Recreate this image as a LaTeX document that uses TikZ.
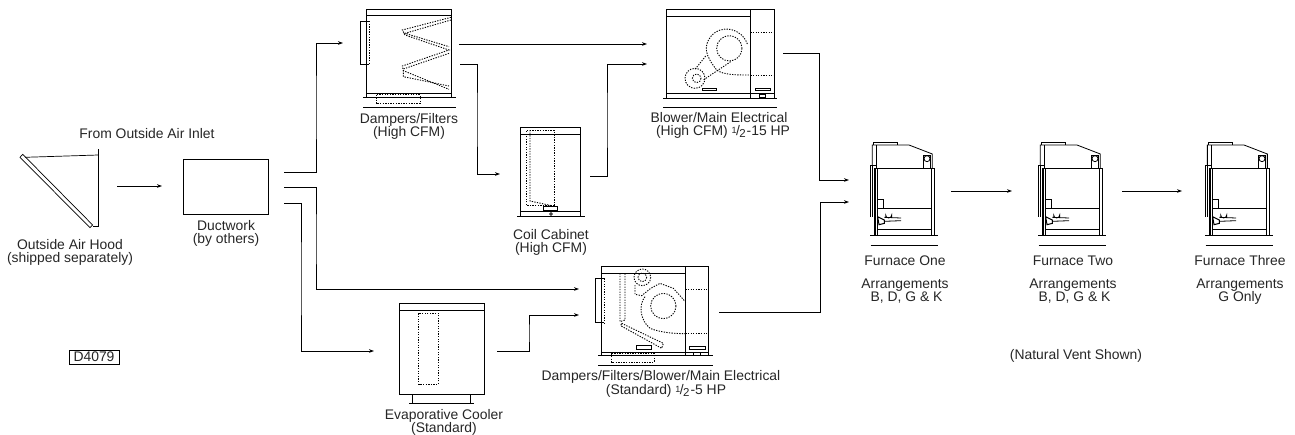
\documentclass[tikz,border=0pt]{standalone}
\usepackage{fontspec}
\setmainfont{Liberation Sans}
\usetikzlibrary{arrows.meta}
\newcommand{\frc}{\raisebox{2.5pt}{\fontsize{9}{9}\selectfont 1}\kern-.6pt\raisebox{.5pt}{/}\kern-.6pt\raisebox{-2pt}{\fontsize{11.5}{11.5}\selectfont 2}\kern1pt}
\tikzset{
 lbl/.style={align=center,font=\fontsize{13.9}{13.2}\selectfont,inner sep=0pt,text=black!85},
 flow/.style={line width=.8pt,-{Stealth[length=5pt,width=3.6pt]}},
 unit/.style={line width=.8pt},
 heavy/.style={line width=1.1pt},
 hid/.style={line width=.9pt,dash pattern=on 1.3pt off 1.3pt},
 local/.style={x=.33333pt,y=-.33333pt}
}
\newcommand{\furnace}[1]{%
\begin{scope}[shift={(#1,130)},local]
 \draw[unit] (55,45)--(55,37)--(127,37)--(127,45);
 \draw[unit] (52,105)--(52,45)--(162,45)--(232,72)--(232,115);
 \draw[unit] (65,45)--(65,115);
 \draw[unit] (65,105)--(47,105)--(47,262);
 \draw[line width=.5pt] (52,105)--(52,262);
 \draw[heavy] (60,115)--(238,115);
 \draw[line width=1.6pt] (60,115)--(60,317);
 \draw[line width=.5pt] (66,115)--(66,317);
 \draw[unit] (230,115)--(230,317);
 \draw[line width=.6pt] (238,115)--(238,317);
 \draw[unit] (66,235)--(230,235) (66,297)--(230,297);
 \draw[unit] (45,317)--(250,317);
 \draw[unit] (47,345)--(250,345);
 \draw[unit] (66,208)--(85,208)--(85,235);
 \draw[unit] (205,115)--(205,75)--(227,75)--(227,115);
 \draw[unit] (216,86) circle (9);
 \draw[unit] (92,262)--(92,255) arc (180:0:9)--(110,262);
 \draw[unit] (88,262)--(138,264) (88,274)--(138,272);
 \draw[line width=1pt] (68,260)--(88,270)--(88,280)--(72,284)--cycle;
\end{scope}}
\begin{document}
\begin{tikzpicture}[x=1pt,y=-1pt]
\useasboundingbox (0,0) rectangle (1295,434);
% hood
\begin{scope}[line width=.7pt]
 \draw (20,157.3)--(22.7,154.3)--(92.7,225)--(90,227.7)--cycle;
 \draw (25,157.3)--(98.3,155);
 \draw (98.3,149.3)--(98.3,226.7)--(92.7,226.7);
\end{scope}
\node[lbl] (inlet) at (147,134) {From Outside Air Inlet};
\node[lbl] (hood) at (70,252.5) {Outside Air Hood\\(shipped separately)};
% ductwork
\node[draw,unit,minimum width=85pt,minimum height=55.4pt,inner sep=0pt] (duct) at (225.5,187) {};
\node[lbl] (ductl) at (226,233.8) {Ductwork\\(by others)};
% dampers/filters
\begin{scope}[shift={(340,0)},local]
 \draw[unit] (80,292)--(80,27)--(333,27)--(333,292);
 \draw[unit] (80,47)--(333,47) (80,279)--(333,279);
 \draw[unit] (70,292)--(347,292) (70,321)--(347,321);
 \draw[unit] (88,63)--(62,63)--(62,193)--(88,193);
 \draw[hid] (88,63)--(88,193);
 \draw[hid] (333,52)--(187,90)--(195,105)--(327,150)--(187,198)--(190,212)--(327,268);
 \draw[hid] (333,60)--(195,100)--(327,140) (327,160)--(190,207)--(190,230)--(327,258);
 \draw[hid] (108,284) rectangle (240,311);
\end{scope}
\node[lbl] (dfl) at (409,126.5) {Dampers/Filters\\(High CFM)};
% coil cabinet
\begin{scope}[shift={(500,115)},local]
 \draw[unit] (62,305)--(62,37)--(242,37)--(242,305);
 \draw[unit] (62,58)--(242,58) (62,289)--(242,289) (52,305)--(256,305);
 \draw[hid] (80,270)--(80,45)--(162,45)--(162,270)--cycle;
 \draw[hid] (90,45)--(90,258)--(155,272);
 \draw[unit] (130,275) rectangle (173,285);
 \draw[unit] (153,297) circle (4);
\end{scope}
\node[lbl] (coill) at (551,242.5) {Coil Cabinet\\(High CFM)};
% blower high
\begin{scope}[shift={(640,0)},local]
 \draw[unit] (80,294)--(80,28)--(402,28)--(402,294);
 \draw[unit] (331,28)--(331,294);
 \draw[unit] (80,48)--(331,48) (80,281)--(402,281);
 \draw[unit] (70,294)--(412,294) (70,322)--(412,322);
 \draw[unit] (186,265) rectangle (230,272);
 \draw[unit] (346,265) rectangle (391,272);
 \draw[unit] (358,283) rectangle (376,292);
 \draw[hid] (331,97)--(402,97) (331,225)--(402,225);
 \draw[hid] (268,145) circle (38);
 \draw[hid] (322,132) .. controls (305,85) and (245,70) .. (212,110) .. controls (190,140) and (195,165) .. (230,210) .. controls (250,225) and (290,225) .. (331,225);
 \draw[hid] (165,235) circle (30);
 \draw[hid] (170,235) circle (13);
 \draw[hid] (197,168)--(165,208) (272,185)--(190,240);
\end{scope}
\node[lbl] (blowl) at (719,125.5) {Blower/Main Electrical\\\hspace*{8pt}(High CFM) \frc-15 HP};
% blower standard
\begin{scope}[shift={(580,255)},local]
 \draw[unit] (65,303)--(65,35)--(385,35)--(385,303);
 \draw[unit] (316,35)--(316,303);
 \draw[unit] (65,55)--(316,55) (65,291)--(385,291);
 \draw[unit] (55,302)--(400,302) (55,330)--(400,330);
 \draw[unit] (73,70)--(47,70)--(47,203)--(73,203);
 \draw[hid] (73,70)--(73,203);
 \draw[unit] (168,272) rectangle (215,283);
 \draw[unit] (328,273) rectangle (375,283);
 \draw[unit] (340,292) rectangle (360,300);
 \draw[hid] (95,295) rectangle (222,322);
 \draw[hid] (187,67) circle (25);
 \draw[hid] (187,67) circle (13);
 \draw[hid] (250,153) circle (38);
 \draw[hid] (316,102)--(385,102) (316,236)--(385,236);
 \draw[hid] (120,55)--(120,200)--(135,195)--(135,55);
 \draw[hid] (125,205)--(250,265)--(245,280)--(122,212)--cycle;
 \draw[hid] (165,90)--(165,118)--(185,122)--(212,100)--(240,85)--(280,100)--(316,140);
 \draw[hid] (195,125) .. controls (175,150) and (180,195) .. (210,220) .. controls (240,232) and (280,236) .. (316,236);
\end{scope}
\node[lbl] (stdl) at (661,384) {Dampers/Filters/Blower/Main Electrical\\\hspace*{10pt}(Standard) \frc-5 HP};
% evaporative cooler
\begin{scope}[shift={(385,295)},local]
 \draw[unit] (42,25) rectangle (297,297);
 \draw[unit] (42,47)--(297,47);
 \draw[unit] (82,297)--(82,325) (257,297)--(257,325) (72,325)--(267,325);
 \draw[hid] (101,55) rectangle (160,268);
\end{scope}
\node[lbl] (evapl) at (444,422.4) {Evaporative Cooler\\(Standard)};
% furnaces
\furnace{855}
\furnace{1023}
\furnace{1190}
\node[lbl] (f1) at (905,260.7) {Furnace One};
\node[lbl] (a1) at (905,291.5) {Arrangements\\\hspace*{3pt}B, D, G \& K};
\node[lbl] (f2) at (1073,260.7) {Furnace Two};
\node[lbl] (a2) at (1073,291.5) {Arrangements\\\hspace*{3pt}B, D, G \& K};
\node[lbl] (f3) at (1240,260.7) {Furnace Three};
\node[lbl] (a3) at (1240,291.5) {Arrangements\\G Only};
\node[lbl] (nv) at (1076,355.7) {(Natural Vent Shown)};
\node[draw,line width=.7pt,lbl,minimum width=50pt,minimum height=14pt] (dno) at (94,357) {D4079};
% connector ends
\coordinate (hoodout) at (117,186);
\coordinate (ductin) at (162,186);
\coordinate (d1) at (284,172);
\coordinate (d2) at (284,187);
\coordinate (d3) at (284,203);
\coordinate (dfin) at (343,43);
\coordinate (stdin1) at (579,289);
\coordinate (evapin) at (374,351);
\coordinate (dfout1) at (459,44);
\coordinate (dfout2) at (460,64);
\coordinate (blowin1) at (647,44);
\coordinate (blowin2) at (647,64);
\coordinate (coilin) at (500,174);
\coordinate (coilout) at (590,176);
\coordinate (blowout) at (783,53);
\coordinate (f1in1) at (849,180);
\coordinate (evapout) at (497,351);
\coordinate (stdin2) at (579,315);
\coordinate (stdout) at (719,312);
\coordinate (f1in2) at (849,202);
\coordinate (f1out) at (951,191);
\coordinate (f2in) at (1012,191);
\coordinate (f2out) at (1122,191);
\coordinate (f3in) at (1182,191);
% connectors
\draw[flow] (hoodout)--(ductin);
\draw[flow] (d1)-|(316,107)|-(dfin);
\draw[flow] (d2)-|(316,240)|-(stdin1);
\draw[flow] (d3)-|(301,280)|-(evapin);
\draw[flow] (dfout1)--(blowin1);
\draw[flow] (dfout2)-|(477,120)|-(coilin);
\draw[flow] (coilout)-|(607,120)|-(blowin2);
\draw[flow] (blowout)-|(819,120)|-(f1in1);
\draw[flow] (evapout)-|(529,333)|-(stdin2);
\draw[flow] (stdout)-|(820,260)|-(f1in2);
\draw[flow] (f1out)--(f2in);
\draw[flow] (f2out)--(f3in);
\end{tikzpicture}
\end{document}
